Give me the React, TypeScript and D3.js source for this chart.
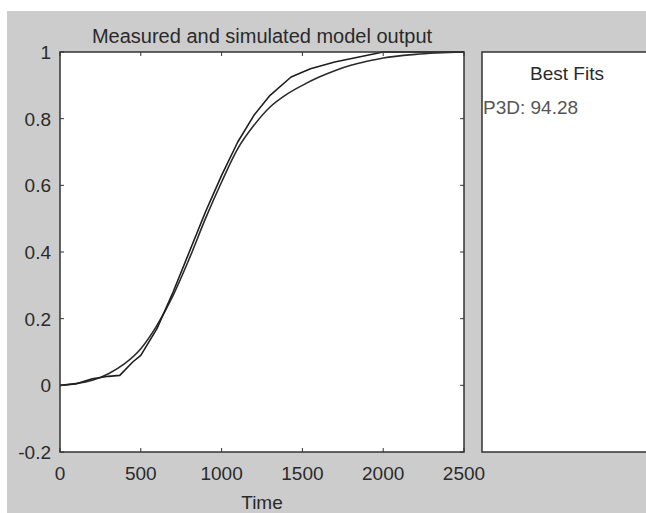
import React from "react";
import * as d3 from "d3";

const title = "Measured and simulated model output";
const xLabel = "Time";
const legendTitle = "Best Fits";
const legendEntry = "P3D: 94.28";

const xTicks = [0, 500, 1000, 1500, 2000, 2500];
const yTicks = [-0.2, 0, 0.2, 0.4, 0.6, 0.8, 1];

const measuredT = [0, 100, 200, 300, 370, 450, 500, 600, 700, 800, 900, 1000, 1100, 1200, 1300, 1430, 1550, 1700, 1850, 2000, 2500];
const measuredV = [0, 0.005, 0.02, 0.027, 0.03, 0.07, 0.09, 0.17, 0.28, 0.4, 0.52, 0.63, 0.73, 0.81, 0.87, 0.925, 0.95, 0.97, 0.985, 1.0, 1.0];

const simT = [0, 100, 200, 300, 400, 500, 600, 700, 800, 900, 1000, 1100, 1200, 1300, 1400, 1500, 1600, 1700, 1800, 1900, 2000, 2200, 2500];
const simV = [0, 0.005, 0.015, 0.035, 0.065, 0.11, 0.18, 0.27, 0.38, 0.5, 0.61, 0.71, 0.78, 0.835, 0.872, 0.9, 0.924, 0.944, 0.96, 0.972, 0.982, 0.993, 1.0];

const W = 646, H = 513;
const ax = { left: 60, right: 464, top: 52, bottom: 452 };
const FONT = "'Liberation Sans', Arial, Helvetica, sans-serif";
const TXT = "#2a2a2a";
const AXC = "#333333";

export default function App() {
  const x = d3.scaleLinear().domain([0, 2500]).range([ax.left, ax.right]);
  const y = d3.scaleLinear().domain([-0.2, 1]).range([ax.bottom, ax.top]);

  const lineLin = d3.line<[number, number]>().x(d => x(d[0])).y(d => y(d[1])).curve(d3.curveLinear);
  const lineSmooth = d3.line<[number, number]>().x(d => x(d[0])).y(d => y(d[1])).curve(d3.curveMonotoneX);

  const measured = measuredT.map((t, i) => [t, measuredV[i]] as [number, number]);
  const sim = simT.map((t, i) => [t, simV[i]] as [number, number]);

  const tl = 4;
  const fmtY = (v: number) => (Math.abs(v) < 1e-9 ? "0" : String(+v.toFixed(1)));

  return (
    <svg width={W} height={H} style={{ position: "absolute", left: 0, top: 0, display: "block" }}>
      <rect x={0} y={0} width={W} height={H} fill="#ffffff" />
      <rect x={7} y={11} width={W - 7} height={H - 11} fill="#cccccc" />

      <rect x={ax.left} y={ax.top} width={ax.right - ax.left} height={ax.bottom - ax.top} fill="#ffffff" />
      <defs>
        <clipPath id="clipAx">
          <rect x={ax.left} y={ax.top - 2} width={ax.right - ax.left} height={ax.bottom - ax.top + 4} />
        </clipPath>
      </defs>
      <g clipPath="url(#clipAx)">
        <path d={lineSmooth(sim) || ""} fill="none" stroke="#2b2b2b" strokeWidth={1.6} />
        <path d={lineLin(measured) || ""} fill="none" stroke="#1e1e1e" strokeWidth={1.6} strokeLinejoin="round" />
      </g>

      {xTicks.map(t => (
        <g key={"xt" + t}>
          <line x1={x(t)} x2={x(t)} y1={ax.bottom} y2={ax.bottom - tl} stroke={AXC} strokeWidth={1} />
          <line x1={x(t)} x2={x(t)} y1={ax.top} y2={ax.top + tl} stroke={AXC} strokeWidth={1} />
          <text x={x(t)} y={480} textAnchor="middle" fontFamily={FONT} fontSize={19} fill={TXT}>{t}</text>
        </g>
      ))}
      {yTicks.map(v => (
        <g key={"yt" + v}>
          <line x1={ax.left} x2={ax.left + tl} y1={y(v)} y2={y(v)} stroke={AXC} strokeWidth={1} />
          <line x1={ax.right} x2={ax.right - tl} y1={y(v)} y2={y(v)} stroke={AXC} strokeWidth={1} />
          <text x={51} y={y(v) + 7} textAnchor="end" fontFamily={FONT} fontSize={19} fill={TXT}>{fmtY(v)}</text>
        </g>
      ))}
      <rect x={ax.left} y={ax.top} width={ax.right - ax.left} height={ax.bottom - ax.top} fill="none" stroke={AXC} strokeWidth={1.5} />

      <text x={(ax.left + ax.right) / 2} y={43} textAnchor="middle" fontFamily={FONT} fontSize={20} fill={TXT}>{title}</text>
      <text x={(ax.left + ax.right) / 2} y={509} textAnchor="middle" fontFamily={FONT} fontSize={19} fill={TXT}>{xLabel}</text>

      <rect x={482} y={52} width={200} height={400} fill="#ffffff" stroke={AXC} strokeWidth={1.5} />
      <text x={567} y={80} textAnchor="middle" fontFamily={FONT} fontSize={19} fill={TXT}>{legendTitle}</text>
      <text x={483} y={114} fontFamily={FONT} fontSize={19} fill="#555555">{legendEntry}</text>
    </svg>
  );
}
